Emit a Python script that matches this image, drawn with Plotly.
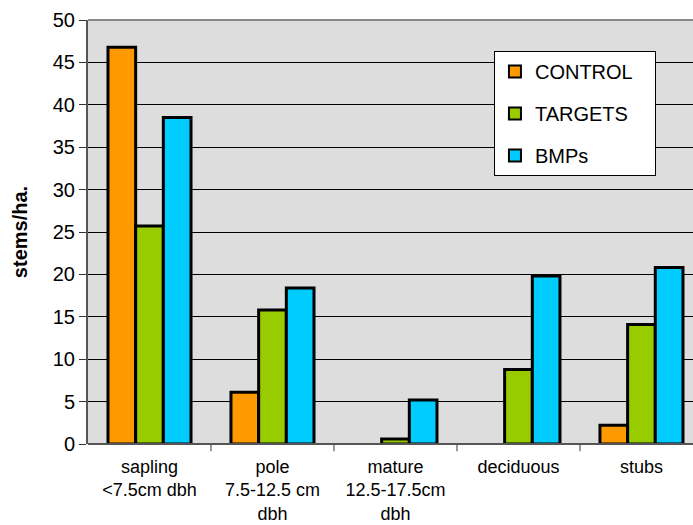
import plotly.graph_objects as go

# Stem density by size class and treatment
categories = [
    "sapling<br><7.5cm dbh",
    "pole<br>7.5-12.5 cm<br>dbh",
    "mature<br>12.5-17.5cm<br>dbh",
    "deciduous",
    "stubs",
]
control = [46.8, 6.1, 0, 0, 2.2]
targets = [25.7, 15.8, 0.6, 8.8, 14.1]
bmps = [38.5, 18.4, 5.2, 19.8, 20.8]

series = [
    ("CONTROL", control, "#FF9900"),
    ("TARGETS", targets, "#99CC00"),
    ("BMPs", bmps, "#00CCFF"),
]

font_family = "Arial, 'Liberation Sans', sans-serif"

fig = go.Figure()
for name, vals, color in series:
    # empty classes are left undrawn rather than as a flat outline
    shown = [v if v > 0 else None for v in vals]
    fig.add_trace(go.Bar(
        x=list(range(len(categories))),
        y=shown,
        # trailing padding widens the legend box a little
        name=name + "&nbsp;&nbsp;&nbsp;",
        legendgroup=name,
        marker=dict(color=color, line=dict(color="black", width=3)),
    ))

fig.update_layout(
    width=693,
    height=525,
    margin=dict(l=88, r=0, t=20, b=81),
    paper_bgcolor="white",
    plot_bgcolor="#DDDDDD",
    barmode="group",
    bargap=0.325,
    bargroupgap=0,
    font=dict(family=font_family, color="black"),
    showlegend=True,
    legend=dict(
        x=0.671, y=0.927, xanchor="left", yanchor="top",
        bgcolor="white", bordercolor="black", borderwidth=1,
        font=dict(size=20, family=font_family),
        tracegroupgap=13,
        traceorder="grouped",
        itemsizing="constant",
    ),
    xaxis=dict(
        range=[-0.5, 4.419],
        tickmode="array",
        tickvals=list(range(len(categories))),
        ticktext=categories,
        ticks="",
        ticklabelstandoff=10,
        showgrid=False,
        zeroline=False,
        showline=False,
        tickfont=dict(size=18),
    ),
    yaxis=dict(
        range=[0, 50],
        dtick=5,
        ticks="outside",
        ticklen=7,
        tickcolor="#333333",
        showgrid=True,
        gridcolor="black",
        gridwidth=1,
        zeroline=False,
        showline=True,
        linecolor="#555555",
        linewidth=2,
        tickfont=dict(size=20),
        title=dict(text="<b>stems/ha.</b>", font=dict(size=20), standoff=20),
    ),
)

# category boundary tick marks below the baseline
for b in [0.5, 1.5, 2.5, 3.5]:
    fig.add_shape(type="line", xref="x", yref="paper",
                  x0=b, x1=b, y0=0, y1=-0.017,
                  line=dict(color="#333333", width=1))
# baseline and top border of the plotting area
fig.add_shape(type="line", xref="paper", yref="paper", x0=0, x1=1, y0=0, y1=0,
              line=dict(color="#555555", width=2))
fig.add_shape(type="line", xref="paper", yref="paper", x0=0, x1=1, y0=1, y1=1,
              line=dict(color="#888888", width=2))

fig.write_html("out.html")
